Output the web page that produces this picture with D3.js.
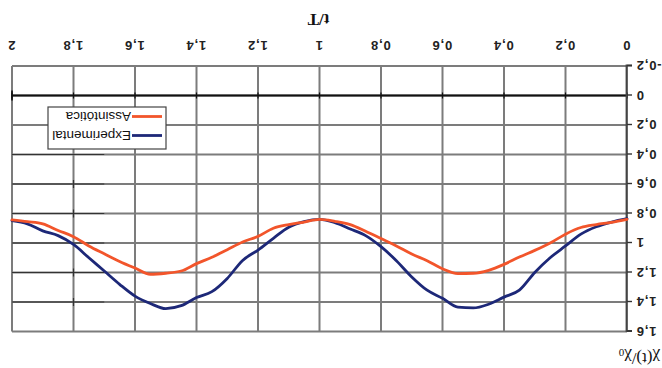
<!DOCTYPE html>
<html>
<head>
<meta charset="utf-8">
<script src="https://cdn.jsdelivr.net/npm/d3@7/dist/d3.min.js"></script>
<style>
  html, body { margin: 0; padding: 0; background: #fff; }
  svg { display: block; }
</style>
</head>
<body>
<svg id="chart" width="662" height="368"></svg>
<script>
// Normalised time t/T
const tValues = [0, 0.05, 0.1, 0.15, 0.2, 0.25, 0.3, 0.35, 0.4, 0.45,
  0.5, 0.55, 0.6, 0.65, 0.7, 0.75, 0.8, 0.85, 0.9, 0.95,
  1.0, 1.05, 1.1, 1.15, 1.2, 1.25, 1.3, 1.35, 1.4, 1.45,
  1.5, 1.55, 1.6, 1.65, 1.7, 1.75, 1.8, 1.85, 1.9, 1.95, 2.0];

// χ(t)/χ0, asymptotic curve
const assintotica = [0.84, 0.86, 0.875, 0.895, 0.94, 1.0, 1.05, 1.095, 1.145, 1.185,
  1.205, 1.207, 1.175, 1.12, 1.075, 1.02, 0.97, 0.92, 0.875, 0.853,
  0.84, 0.858, 0.875, 0.9, 0.955, 0.993, 1.045, 1.097, 1.14, 1.19,
  1.205, 1.212, 1.17, 1.125, 1.073, 1.02, 0.957, 0.915, 0.87, 0.855, 0.843];

// χ(t)/χ0, experimental curve
const experimental = [0.835, 0.858, 0.89, 0.94, 1.02, 1.1, 1.2, 1.32, 1.367, 1.415,
  1.44, 1.435, 1.375, 1.32, 1.23, 1.12, 1.025, 0.95, 0.905, 0.862,
  0.84, 0.855, 0.893, 0.968, 1.048, 1.118, 1.24, 1.33, 1.37, 1.425,
  1.445, 1.41, 1.36, 1.28, 1.19, 1.1, 1.01, 0.95, 0.918, 0.87, 0.848];

const xTickValues = [0, 0.2, 0.4, 0.6, 0.8, 1, 1.2, 1.4, 1.6, 1.8, 2];
const xTickLabels = ["0", "0,2", "0,4", "0,6", "0,8", "1", "1,2", "1,4", "1,6", "1,8", "2"];
const yTickValues = [-0.2, 0, 0.2, 0.4, 0.6, 0.8, 1, 1.2, 1.4, 1.6];
const yTickLabels = ["-0,2", "0", "0,2", "0,4", "0,6", "0,8", "1", "1,2", "1,4", "1,6"];

const seriesNames = ["Experimental", "Assintótica"];
const seriesColors = ["#1d2878", "#f2552b"];

const W = 662, H = 368;
const plot = { left: 35, right: 650, top: 36.5, bottom: 302 };

const svg = d3.select("#chart");
svg.append("rect").attr("width", W).attr("height", H).attr("fill", "#fff");

// The whole figure is drawn turned half a revolution about its centre.
const g = svg.append("g").attr("transform", `rotate(180 ${W / 2} ${H / 2})`);

const x = d3.scaleLinear().domain([0, 2]).range([plot.left, plot.right]);
const y = d3.scaleLinear().domain([-0.2, 1.6]).range([plot.bottom, plot.top]);

// grid, drawn as one path of vertical and horizontal runs
const gridPath = d3.path();
xTickValues.forEach(v => { gridPath.moveTo(x(v), plot.top); gridPath.lineTo(x(v), plot.bottom); });
yTickValues.forEach(v => { gridPath.moveTo(plot.left, y(v)); gridPath.lineTo(plot.right, y(v)); });
g.append("path").attr("d", gridPath.toString())
  .attr("fill", "none").attr("stroke", "#7c7c7c").attr("stroke-width", 2);

// darker overprinted segments near the right edge
const over = g.append("g").attr("stroke", "#333").attr("stroke-width", 1.2);
over.selectAll("line.o").data([0.4, 0.6, 0.8, 1.0, 1.2, 1.4]).join("line").attr("class", "o")
  .attr("x1", x(1.7)).attr("x2", plot.right)
  .attr("y1", d => y(d)).attr("y2", d => y(d));
over.selectAll("line.c").data([0.6, 0.8, 1.2, 1.4]).join("line").attr("class", "c")
  .attr("x1", x(1.8)).attr("x2", x(1.8))
  .attr("y1", d => y(d) - 4).attr("y2", d => y(d) + 4);

// zero line with crossing ticks
const zero = g.append("g").attr("stroke", "#111");
zero.append("line").attr("x1", plot.left).attr("x2", plot.right)
  .attr("y1", y(0)).attr("y2", y(0)).attr("stroke-width", 1.8);
zero.selectAll("line.t").data(xTickValues).join("line").attr("class", "t")
  .attr("x1", d => x(d)).attr("x2", d => x(d))
  .attr("y1", y(0) - 3).attr("y2", y(0) + 3).attr("stroke-width", 1.2);
zero.append("line").attr("x1", x(2)).attr("x2", x(2))
  .attr("y1", y(0) - 5).attr("y2", y(0) + 5).attr("stroke-width", 1.6);

// y axis
const yAxis = g.append("g").attr("transform", `translate(${plot.left},0)`)
  .call(d3.axisLeft(y).tickValues(yTickValues).tickSize(5).tickPadding(4)
    .tickFormat((d, i) => yTickLabels[i]));
yAxis.select(".domain").attr("stroke", "#444").attr("stroke-width", 1.8);
yAxis.selectAll(".tick line").attr("stroke", "#333").attr("stroke-width", 1.4);
yAxis.selectAll("text").attr("font-family", "Liberation Sans, Arial, sans-serif")
  .attr("font-size", 13).attr("font-weight", "bold").attr("fill", "#222")
  .attr("letter-spacing", 0.8);

// x axis labels
const xAxis = g.append("g").attr("transform", `translate(0,${plot.bottom})`)
  .call(d3.axisBottom(x).tickValues(xTickValues).tickSize(0).tickPadding(16)
    .tickFormat((d, i) => xTickLabels[i]));
xAxis.select(".domain").remove();
xAxis.selectAll("text").attr("font-family", "Liberation Sans, Arial, sans-serif")
  .attr("font-size", 13).attr("font-weight", "bold").attr("fill", "#222")
  .attr("letter-spacing", 0.8);

// series
const line = d3.line().x(d => x(d[0])).y(d => y(d[1])).curve(d3.curveMonotoneX);
const series = [experimental, assintotica];
series.forEach((vals, k) => {
  g.append("path")
    .datum(tValues.map((t, i) => [t, vals[i]]))
    .attr("fill", "none")
    .attr("stroke", seriesColors[k])
    .attr("stroke-width", 2.8)
    .attr("stroke-linejoin", "round")
    .attr("stroke-linecap", "round")
    .attr("d", line);
});

// legend
const lg = g.append("g").attr("transform", "translate(496,219)");
lg.append("rect").attr("width", 118).attr("height", 42)
  .attr("fill", "#fff").attr("stroke", "#444").attr("stroke-width", 1.2);
seriesNames.forEach((name, k) => {
  const yy = 13.5 + k * 19;
  lg.append("line").attr("x1", 4).attr("x2", 34).attr("y1", yy).attr("y2", yy)
    .attr("stroke", seriesColors[k]).attr("stroke-width", 2.8);
  lg.append("text").attr("x", 35).attr("y", yy + 4.5)
    .attr("font-family", "Liberation Sans, Arial, sans-serif")
    .attr("font-size", 13.5).attr("fill", "#111").text(name);
});

// axis titles
g.append("text").attr("x", x(1) + 1).attr("y", 354)
  .attr("text-anchor", "middle")
  .attr("font-family", "Liberation Serif, Times New Roman, serif")
  .attr("font-size", 17).attr("font-weight", "bold").attr("fill", "#111")
  .text("t/T");

const yt = g.append("text").attr("x", 2).attr("y", 15)
  .attr("font-family", "Liberation Serif, Times New Roman, serif")
  .attr("font-size", 17).attr("fill", "#111");
yt.append("tspan").text("χ(t)/χ");
yt.append("tspan").attr("font-size", 11).attr("dy", 4).text("0");
</script>
</body>
</html>
